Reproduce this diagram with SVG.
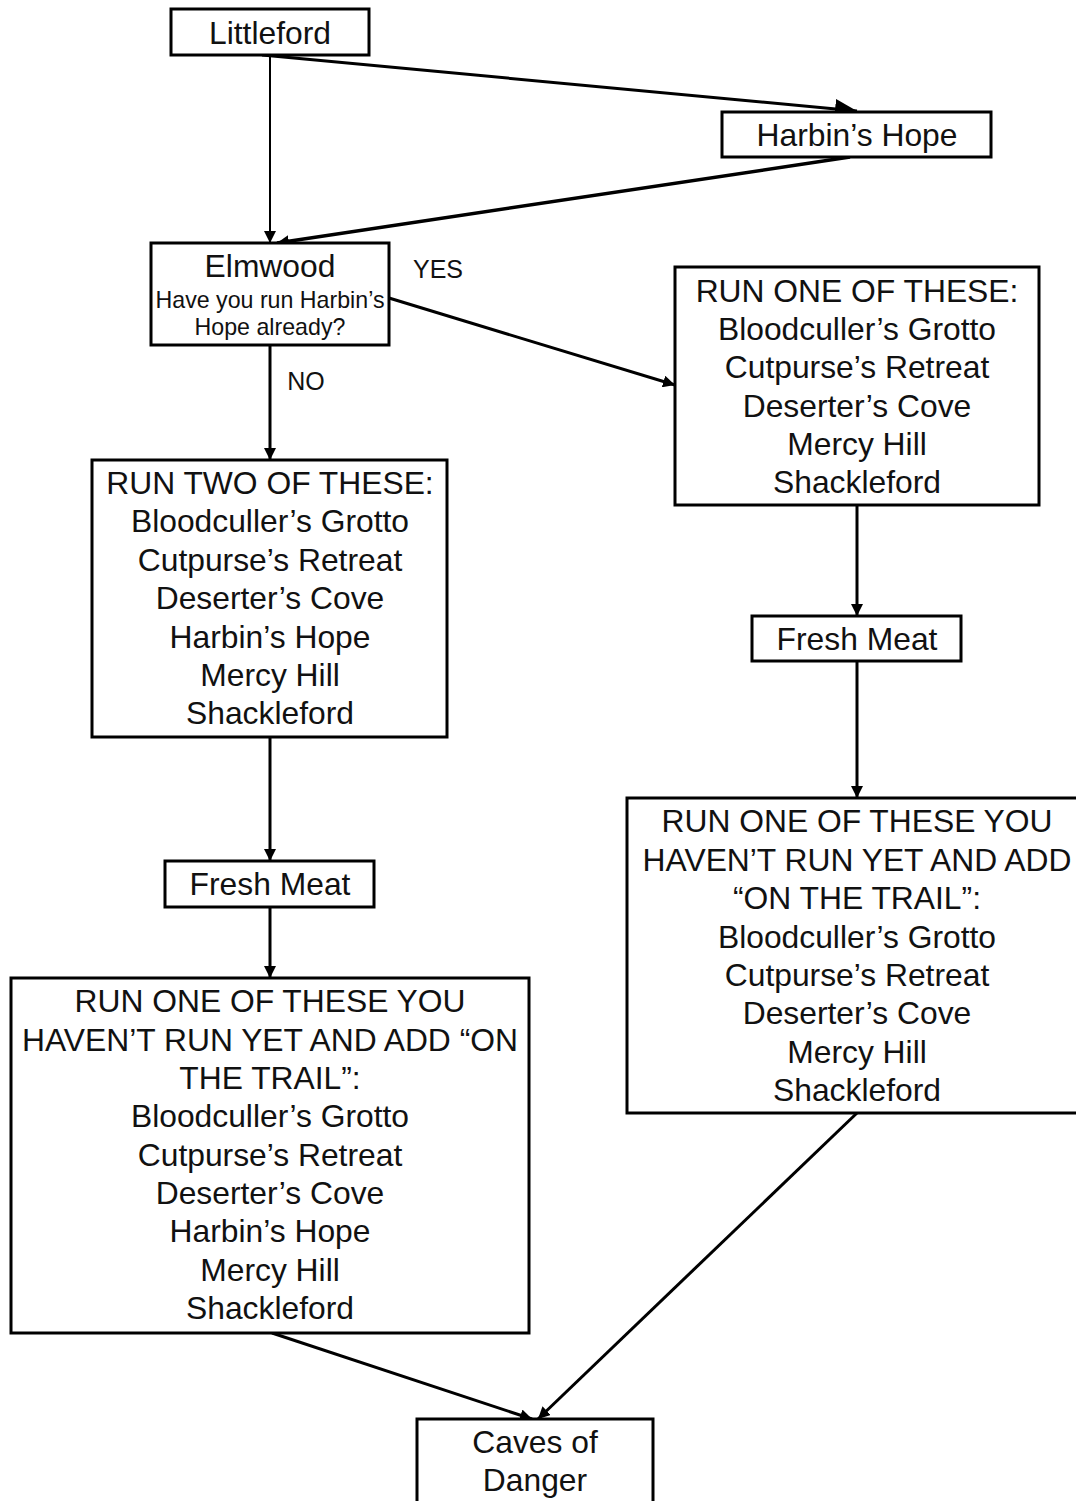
<svg xmlns="http://www.w3.org/2000/svg" width="1076" height="1501" viewBox="0 0 1076 1501">
<defs>
<style>
.box{fill:#fff;stroke:#000;stroke-width:3}
.t{font-family:"Liberation Sans",Arial,sans-serif;font-size:31.8px;fill:#111;text-anchor:middle}
.s{font-family:"Liberation Sans",Arial,sans-serif;font-size:23.2px;fill:#111;text-anchor:middle}
.lbl{font-family:"Liberation Sans",Arial,sans-serif;font-size:25px;fill:#111;text-anchor:middle}
.e{fill:none;stroke:#000;stroke-width:3}
</style>
<marker id="a" markerUnits="userSpaceOnUse" markerWidth="14" markerHeight="12" refX="12" refY="6" orient="auto">
<path d="M0,0 L12,6 L0,12 Z" fill="#000"/>
</marker>
<marker id="ab" markerUnits="userSpaceOnUse" markerWidth="24" markerHeight="20" refX="22" refY="10" orient="auto">
<path d="M0,0 L22,10 L0,20 Z" fill="#000"/>
</marker>
</defs>
<rect width="1076" height="1501" fill="#fff"/>
<g id="connectors">
<line class="e" x1="270" y1="55" x2="270" y2="243" style="stroke-width:2" marker-end="url(#a)"/>
<line class="e" x1="262" y1="55" x2="857" y2="111" marker-end="url(#ab)"/>
<line class="e" x1="850" y1="157" x2="277" y2="243" style="stroke-width:3.5" marker-end="url(#a)"/>
<line class="e" x1="389" y1="298" x2="675" y2="385" marker-end="url(#a)"/>
<line class="e" x1="270" y1="345" x2="270" y2="460" marker-end="url(#a)"/>
<line class="e" x1="270" y1="737" x2="270" y2="861" marker-end="url(#a)"/>
<line class="e" x1="270" y1="907" x2="270" y2="978" marker-end="url(#a)"/>
<line class="e" x1="857" y1="505" x2="857" y2="616" marker-end="url(#a)"/>
<line class="e" x1="857" y1="661" x2="857" y2="798" marker-end="url(#a)"/>
<line class="e" x1="857" y1="1113" x2="538" y2="1419" marker-end="url(#a)"/>
<line class="e" x1="272" y1="1333" x2="532" y2="1419" marker-end="url(#a)"/>
<text class="lbl" x="438" y="278">YES</text>
<text class="lbl" x="306" y="390">NO</text>
</g>
<g id="littleford">
<rect class="box" x="171" y="9" width="198" height="46"/>
<text class="t" x="270" y="44">Littleford</text>
</g>
<g id="harbins-hope">
<rect class="box" x="722" y="112" width="269" height="45"/>
<text class="t" x="857" y="146">Harbin’s Hope</text>
</g>
<g id="elmwood">
<rect class="box" x="151" y="243" width="238" height="102"/>
<text class="t" x="270" y="277">Elmwood</text>
<text class="s" x="270" y="308">Have you run Harbin’s</text>
<text class="s" x="270" y="335">Hope already?</text>
</g>
<g id="run-one-right">
<rect class="box" x="675" y="267" width="364" height="238"/>
<text class="t" x="857" y="302">RUN ONE OF THESE:</text>
<text class="t" x="857" y="340">Bloodculler’s Grotto</text>
<text class="t" x="857" y="378">Cutpurse’s Retreat</text>
<text class="t" x="857" y="417">Deserter’s Cove</text>
<text class="t" x="857" y="455">Mercy Hill</text>
<text class="t" x="857" y="493">Shackleford</text>
</g>
<g id="run-two">
<rect class="box" x="92" y="460" width="355" height="277"/>
<text class="t" x="270" y="494">RUN TWO OF THESE:</text>
<text class="t" x="270" y="532">Bloodculler’s Grotto</text>
<text class="t" x="270" y="571">Cutpurse’s Retreat</text>
<text class="t" x="270" y="609">Deserter’s Cove</text>
<text class="t" x="270" y="648">Harbin’s Hope</text>
<text class="t" x="270" y="686">Mercy Hill</text>
<text class="t" x="270" y="724">Shackleford</text>
</g>
<g id="fresh-meat-right">
<rect class="box" x="752" y="616" width="209" height="45"/>
<text class="t" x="857" y="650">Fresh Meat</text>
</g>
<g id="fresh-meat-left">
<rect class="box" x="165" y="861" width="209" height="46"/>
<text class="t" x="270" y="895">Fresh Meat</text>
</g>
<g id="run-one-trail-right">
<rect class="box" x="627" y="798" width="452" height="315"/>
<text class="t" x="857" y="832">RUN ONE OF THESE YOU</text>
<text class="t" x="857" y="871">HAVEN’T RUN YET AND ADD</text>
<text class="t" x="857" y="909">“ON THE TRAIL”:</text>
<text class="t" x="857" y="948">Bloodculler’s Grotto</text>
<text class="t" x="857" y="986">Cutpurse’s Retreat</text>
<text class="t" x="857" y="1024">Deserter’s Cove</text>
<text class="t" x="857" y="1063">Mercy Hill</text>
<text class="t" x="857" y="1101">Shackleford</text>
</g>
<g id="run-one-trail-left">
<rect class="box" x="11" y="978" width="518" height="355"/>
<text class="t" x="270" y="1012">RUN ONE OF THESE YOU</text>
<text class="t" x="270" y="1051">HAVEN’T RUN YET AND ADD “ON</text>
<text class="t" x="270" y="1089">THE TRAIL”:</text>
<text class="t" x="270" y="1127">Bloodculler’s Grotto</text>
<text class="t" x="270" y="1166">Cutpurse’s Retreat</text>
<text class="t" x="270" y="1204">Deserter’s Cove</text>
<text class="t" x="270" y="1242">Harbin’s Hope</text>
<text class="t" x="270" y="1281">Mercy Hill</text>
<text class="t" x="270" y="1319">Shackleford</text>
</g>
<g id="caves-of-danger">
<rect class="box" x="417" y="1419" width="236" height="90"/>
<text class="t" x="535" y="1453">Caves of</text>
<text class="t" x="535" y="1491">Danger</text>
</g>
</svg>
